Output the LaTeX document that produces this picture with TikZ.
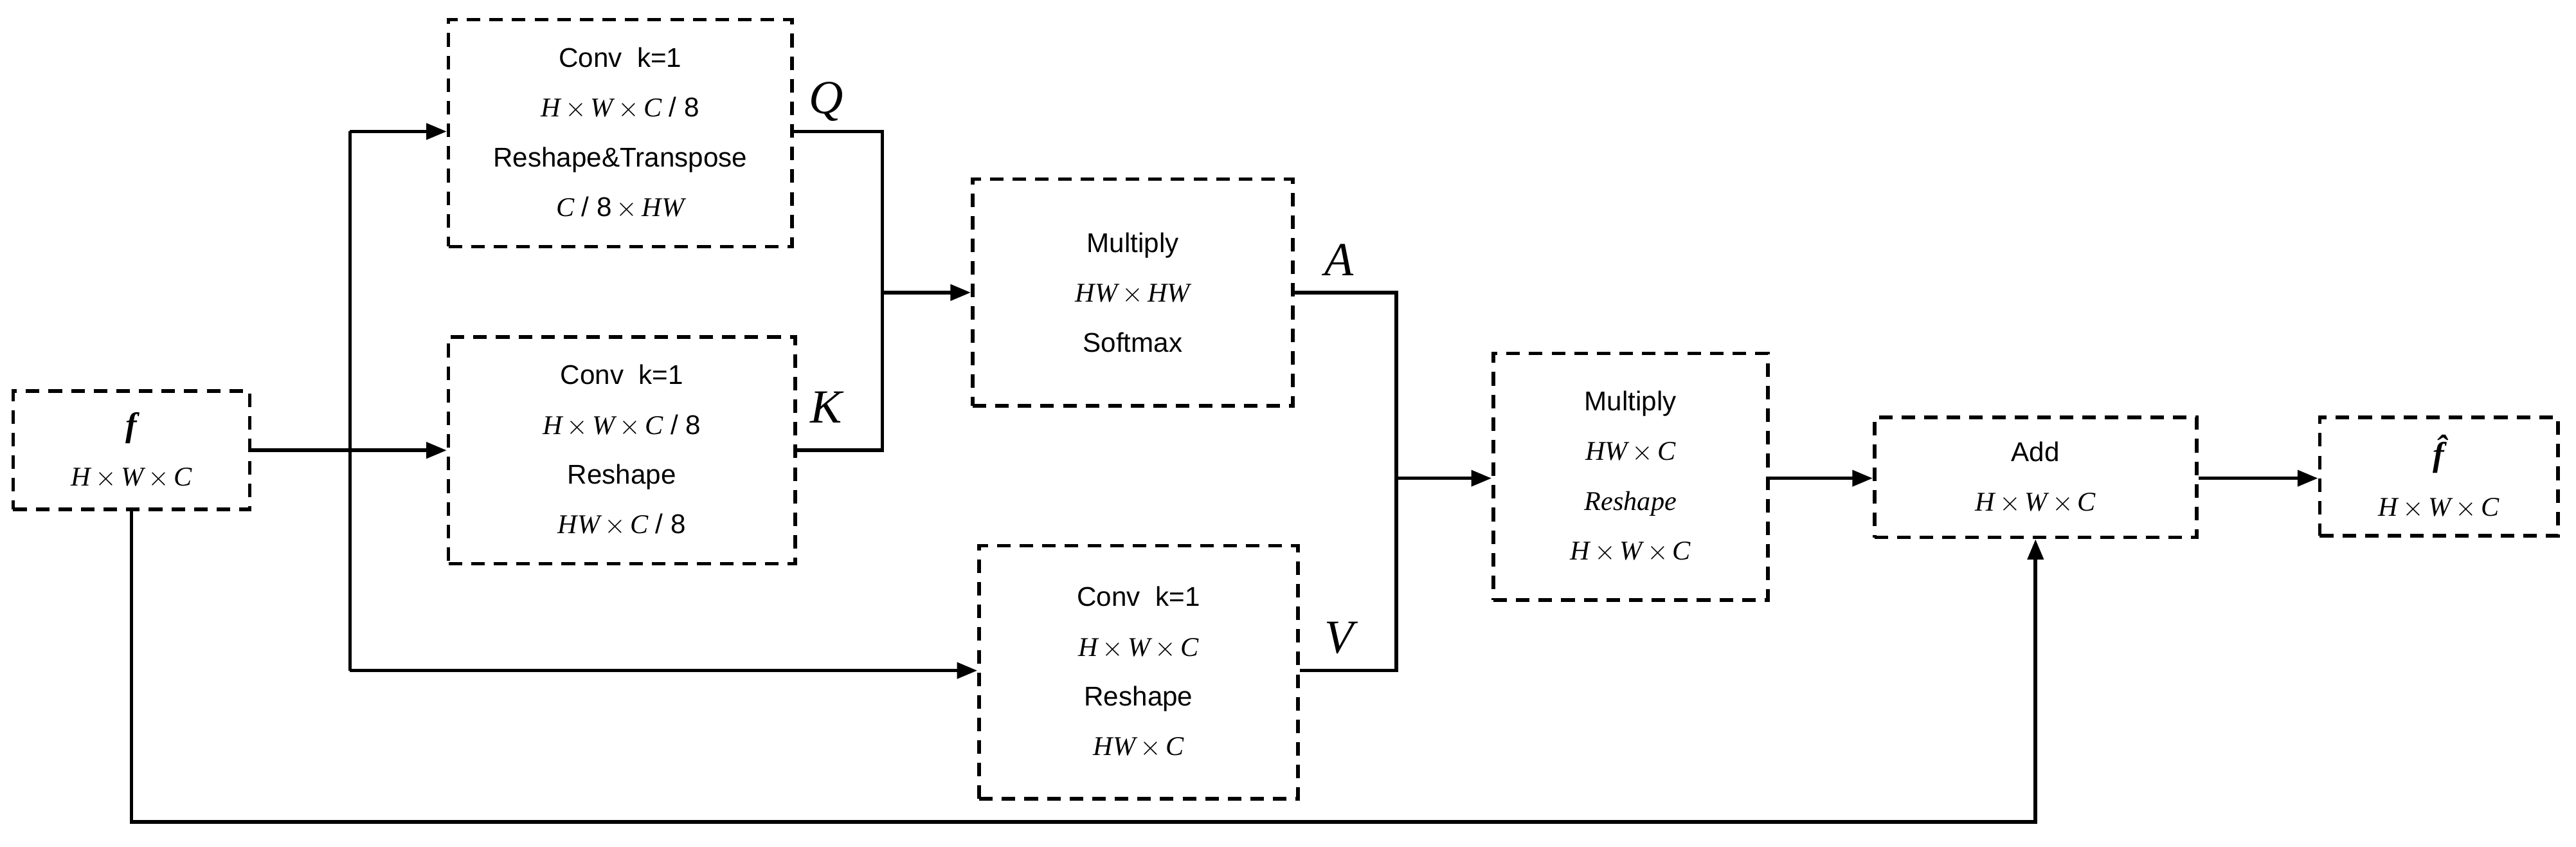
\documentclass[tikz,border=0pt]{standalone}
\usepackage{fontspec}
\setmainfont{Liberation Sans}
\newfontfamily\tms{Liberation Serif}
\usetikzlibrary{arrows.meta}
\newcommand{\mi}[1]{{\tms\itshape #1}}
\newcommand{\tx}{\,{\tms$\times$}\,}
\begin{document}
\begin{tikzpicture}[x=0.02555cm,y=-0.02555cm,
  box/.style={draw,dashed,line width=1.6pt,dash pattern=on 6pt off 4pt,align=center,font=\fontsize{12}{22}\selectfont,inner sep=0pt},
  ln/.style={line width=1.6pt},
  ar/.style={line width=1.6pt,-{Triangle[length=9pt,width=7pt]}},
  lab/.style={font=\fontsize{21}{24}\tms\itshape}]
\useasboundingbox (0,0) rectangle (1568,515);
\node[box,minimum width=144*0.02555cm,minimum height=72*0.02555cm] (f) at (80,274) {{\fontsize{15}{15}\tms\bfseries\itshape f}\\\mi{H}\tx\mi{W}\tx\mi{C}};
\node[box,minimum width=209*0.02555cm,minimum height=138*0.02555cm] (q) at (377.5,81) {Conv\ \ k=1\\\mi{H}\tx\mi{W}\tx\mi{C} / 8\\Reshape\&Transpose\\\mi{C} / 8\tx\mi{HW}};
\node[box,minimum width=211*0.02555cm,minimum height=138*0.02555cm] (k) at (378.5,274) {Conv\ \ k=1\\\mi{H}\tx\mi{W}\tx\mi{C} / 8\\Reshape\\\mi{HW}\tx\mi{C} / 8};
\node[box,minimum width=195*0.02555cm,minimum height=138*0.02555cm] (m1) at (689.5,178) {Multiply\\\mi{HW}\tx\mi{HW}\\Softmax};
\node[box,minimum width=194*0.02555cm,minimum height=154*0.02555cm] (v) at (693,409) {Conv\ \ k=1\\\mi{H}\tx\mi{W}\tx\mi{C}\\Reshape\\\mi{HW}\tx\mi{C}};
\node[box,minimum width=167*0.02555cm,minimum height=150*0.02555cm] (m2) at (992.5,290) {Multiply\\\mi{HW}\tx\mi{C}\\\mi{Reshape}\\\mi{H}\tx\mi{W}\tx\mi{C}};
\node[box,minimum width=196*0.02555cm,minimum height=73*0.02555cm] (add) at (1239,290.5) {Add\\\mi{H}\tx\mi{W}\tx\mi{C}};
\node[box,minimum width=145*0.02555cm,minimum height=72*0.02555cm] (fh) at (1484.5,290) {{\fontsize{15}{15}\tms\bfseries\itshape \^{f}}\\\mi{H}\tx\mi{W}\tx\mi{C}};
\coordinate (br) at (213,274);
\coordinate (j1) at (537,178);
\coordinate (j2) at (850,291);
\draw[ar] (f.east) -- (k.west);
\draw[ln] (213,80) -- (213,408);
\draw[ar] (213,80) -- (q.west|-213,80);
\draw[ar] (213,408) -- (v.west|-213,408);
\draw[ln] (q.east|-0,80) -| (j1);
\draw[ln] (k.east) -| (j1);
\draw[ar] (j1) -- (m1.west|-j1);
\draw[ln] (m1.east|-0,178) -| (j2);
\draw[ln] (v.east|-0,408) -| (j2);
\draw[ar] (j2) -- (m2.west|-j2);
\draw[ar] (m2.east|-0,291) -- (add.west|-0,291);
\draw[ar] (add.east|-0,291) -- (fh.west|-0,291);
\draw[ar] (f.south) -- (80,500) -| (add.south);
\node[lab] at (503,62) {Q};
\node[lab] at (503,248) {K};
\node[lab] at (815,158) {A};
\node[lab] at (815,388) {V};
\end{tikzpicture}
\end{document}
